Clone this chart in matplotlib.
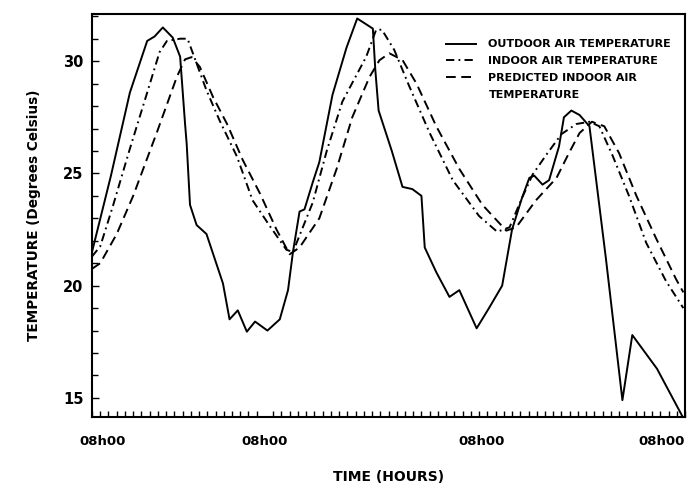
import matplotlib
matplotlib.use("Agg")
import matplotlib.pyplot as plt
from matplotlib.lines import Line2D
from matplotlib.ticker import MultipleLocator

plt.rcParams['font.family'] = ['DejaVu Sans']
plt.rcParams['font.weight'] = 'bold'
plt.rcParams['axes.labelweight'] = 'bold'
plt.rcParams['lines.scale_dashes'] = False

# hours after 08h00 on the first day
outdoor_t = [0, 2.3, 4.6, 6.7, 7.6, 8.6, 9.8, 10.7, 11.3, 11.5, 11.9, 12.7, 13.9,
             15.9, 16.7, 17.7, 18.8, 19.8, 21.3, 22.8, 23.8, 24.4, 25.2, 25.8,
             26.8, 27.6, 29.2, 30.9, 32.2, 34.1, 34.4, 34.8, 36.4, 37.7, 38.9,
             40.0, 40.4, 41.8, 43.4, 44.6, 46.7, 48.2, 49.8, 51.0, 52.2, 53.1,
             53.7, 54.7, 55.5, 56.7, 57.3, 58.2, 59.2, 60.4, 62.4, 64.4, 65.6,
             68.6, 71.8]
outdoor_temp = [21.5, 24.9, 28.6, 30.9, 31.1, 31.5, 31.05, 30.2, 27.2, 26.3, 23.6,
                22.7, 22.3, 20.1, 18.5, 18.9, 17.95, 18.4, 18.0, 18.5, 19.8, 21.5,
                23.3, 23.4, 24.6, 25.5, 28.5, 30.6, 31.9, 31.45, 29.6, 27.8, 26.0,
                24.4, 24.3, 24.0, 21.7, 20.6, 19.5, 19.8, 18.1, 19.0, 20.0, 22.5,
                23.9, 24.8, 24.9, 24.5, 24.7, 26.2, 27.5, 27.8, 27.6, 27.1, 21.2,
                14.9, 17.8, 16.3, 14.1]

indoor_t = [0, 1.0, 2.5, 4.6, 6.7, 8.2, 9.1, 10.7, 11.6, 12.7, 13.9, 15.5, 17.6,
            19.5, 21.6, 23.6, 24.4, 26.8, 28.5, 30.4, 33.3, 34.5, 35.2, 36.7,
            38.5, 41.0, 43.8, 47.0, 49.2, 50.7, 52.2, 53.5, 55.2, 57.0, 58.8,
            60.4, 61.6, 63.2, 65.2, 67.3, 69.7, 71.8]
indoor_temp = [21.3, 21.75, 23.5, 26.1, 28.6, 30.4, 30.9, 31.0, 31.0, 29.9, 28.7,
               27.35, 25.75, 23.8, 22.65, 21.6, 21.5, 23.7, 26.0, 28.2, 30.2, 31.4,
               31.4, 30.5, 28.9, 26.8, 24.7, 23.1, 22.4, 22.6, 23.9, 24.95, 25.85,
               26.75, 27.2, 27.3, 27.1, 25.8, 24.0, 21.9, 20.2, 19.0]

predicted_t = [0, 1.0, 3.0, 5.0, 7.9, 10.3, 11.3, 12.1, 13.1, 14.7, 16.4, 18.3,
               20.4, 22.4, 24.0, 25.2, 27.6, 29.7, 31.6, 33.7, 34.9, 36.1, 37.7,
               39.4, 41.8, 44.6, 47.4, 50.3, 51.5, 53.9, 56.4, 57.9, 59.2, 60.7,
               62.2, 64.0, 66.1, 68.5, 70.9, 71.8]
predicted_temp = [20.75, 21.0, 22.3, 24.0, 26.85, 29.3, 30.08, 30.18, 29.74, 28.4,
                  27.2, 25.6, 24.1, 22.5, 21.4, 21.7, 23.0, 25.2, 27.5, 29.3, 30.04,
                  30.35, 30.05, 29.0, 27.1, 25.2, 23.6, 22.45, 22.6, 23.8, 24.8,
                  25.9, 26.8, 27.3, 27.1, 25.9, 24.0, 22.1, 20.3, 19.7]

xlabel_pos = [1.3, 21.0, 47.3, 69.1]
xlabel_text = ['08h00', '08h00', '08h00', '08h00']
ytick_major = [15, 20, 25, 30]

fig = plt.figure(figsize=(6.88, 4.88), dpi=100)
ax = fig.add_axes([92 / 688, 1 - 417 / 488, 593 / 688, 403 / 488])

lw = 1.4
ax.plot(outdoor_t, outdoor_temp, color='black', lw=lw, solid_joinstyle='round')
ax.plot(indoor_t, indoor_temp, color='black', lw=lw, dashes=(6, 3, 1.3, 3))
ax.plot(predicted_t, predicted_temp, color='black', lw=lw, dashes=(7, 4))

ax.set_xlim(0, 72)
ax.set_ylim(14.15, 32.1)

ax.set_xticks(xlabel_pos)
ax.set_xticklabels(xlabel_text, fontsize=9.5)
ax.xaxis.set_minor_locator(MultipleLocator(1))
ax.tick_params(axis='x', which='major', length=0, pad=13)
ax.tick_params(axis='x', which='minor', direction='in', length=4, width=1)

ax.set_yticks(ytick_major)
ax.set_yticklabels([str(v) for v in ytick_major], fontsize=10.5)
ax.yaxis.set_minor_locator(MultipleLocator(1))
ax.tick_params(axis='y', which='major', direction='in', length=5, width=1, pad=6)
ax.tick_params(axis='y', which='minor', direction='in', length=4, width=1)

for s in ax.spines.values():
    s.set_linewidth(1.5)

ax.set_xlabel('TIME (HOURS)', fontsize=10, labelpad=16)
ax.set_ylabel('TEMPERATURE (Degrees Celsius)', fontsize=9.8, labelpad=16)

handles = [Line2D([], [], color='black', lw=lw),
           Line2D([], [], color='black', lw=lw, dashes=(6, 3, 1.3, 3)),
           Line2D([], [], color='black', lw=lw, dashes=(7, 4)),
           Line2D([], [], linestyle='none')]
labels = ['OUTDOOR AIR TEMPERATURE', 'INDOOR AIR TEMPERATURE',
          'PREDICTED INDOOR AIR', 'TEMPERATURE']
ax.legend(handles, labels, loc='upper left', bbox_to_anchor=(0.589, 0.948),
          frameon=False, fontsize=8.0, handlelength=2.7, handletextpad=1.15,
          labelspacing=0.62, borderaxespad=0)

fig.savefig('out.png', dpi=100)
